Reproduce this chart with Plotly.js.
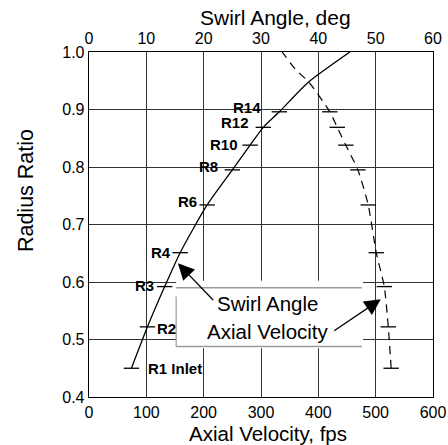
<!DOCTYPE html>
<html>
<head>
<meta charset="utf-8">
<script src="https://cdn.plot.ly/plotly-3.0.1.min.js"></script>
<style>
html,body{margin:0;padding:0;background:#fff;}
#chart{width:448px;height:445px;}
</style>
</head>
<body>
<div id="chart"></div>
<script>
// ---- data ----
const stationLabels = ['R1 Inlet', 'R2', 'R3', 'R4', 'R6', 'R8', 'R10', 'R12', 'R14'];
const stationRadius = [0.450, 0.522, 0.592, 0.651, 0.734, 0.795, 0.838, 0.869, 0.896];
const swirlAngle    = [7.4, 10.2, 13.2, 15.9, 20.6, 25.0, 28.1, 30.4, 33.2];
const axialVelocity = [527, 522, 515, 501, 487, 469, 448, 433, 420];
// curve continuation beyond the last station, up to the tip
const swirlTipRadius = [0.947, 1.0];
const swirlTipAngle  = [38.2, 45.5];
const axialTipRadius = [0.947, 0.970, 1.0];
const axialTipVel    = [384, 360, 337];
// axis ticks
const velTicks   = [0, 100, 200, 300, 400, 500, 600];
const angleTicks = [0, 10, 20, 30, 40, 50, 60];
const radiusTicks = [0.4, 0.5, 0.6, 0.7, 0.8, 0.9, 1.0];

const FONT = 'Liberation Sans, Arial, Helvetica, sans-serif';

const swirlCurveR = stationRadius.concat(swirlTipRadius);
const swirlCurveA = swirlAngle.concat(swirlTipAngle);
const axialCurveR = stationRadius.concat(axialTipRadius);
const axialCurveV = axialVelocity.concat(axialTipVel);

const traces = [
  {x: swirlCurveA, y: swirlCurveR, xaxis: 'x2', yaxis: 'y', mode: 'lines',
   line: {color: '#000', width: 1.3, shape: 'spline', smoothing: 0.6}, hoverinfo: 'skip'},
  {x: swirlAngle, y: stationRadius, xaxis: 'x2', yaxis: 'y', mode: 'markers',
   marker: {symbol: 'line-ew', size: 11, color: '#000', line: {color: '#000', width: 1.3}}, hoverinfo: 'skip'},
  {x: axialCurveV, y: axialCurveR, xaxis: 'x', yaxis: 'y', mode: 'lines',
   line: {color: '#000', width: 1.2, dash: '8px,6px', shape: 'spline', smoothing: 0.6}, hoverinfo: 'skip'},
  {x: axialVelocity, y: stationRadius, xaxis: 'x', yaxis: 'y', mode: 'markers',
   marker: {symbol: 'line-ew', size: 11, color: '#000', line: {color: '#000', width: 1.3}}, hoverinfo: 'skip'}
];

// label placement offsets (px) relative to the swirl-angle station ticks
const labelOffsets = [
  {anchor: 'left',  dx: 16,  dy: 0},
  {anchor: 'left',  dx: 9,   dy: -2},
  {anchor: 'right', dx: -10, dy: 1.5},
  {anchor: 'right', dx: -8,  dy: 0},
  {anchor: 'right', dx: -9,  dy: 3},
  {anchor: 'right', dx: -13, dy: 3},
  {anchor: 'right', dx: -11, dy: 1},
  {anchor: 'right', dx: -13, dy: 5},
  {anchor: 'right', dx: -17, dy: 4.5}
];

const annotations = stationLabels.map((t, i) => ({
  text: '<b>' + t + '</b>', xref: 'x2', yref: 'y', x: swirlAngle[i], y: stationRadius[i],
  xanchor: labelOffsets[i].anchor, yanchor: 'middle',
  xshift: labelOffsets[i].dx, yshift: labelOffsets[i].dy,
  showarrow: false, borderpad: 0, font: {family: FONT, size: 15, color: '#000'}
}));

// legend text and arrows
annotations.push(
  {text: 'Swirl Angle', xref: 'x', yref: 'y', x: 311, y: 0.562, showarrow: false,
   xanchor: 'center', yanchor: 'middle', font: {family: FONT, size: 20.5, color: '#000'}},
  {text: 'Axial Velocity', xref: 'x', yref: 'y', x: 313, y: 0.514, showarrow: false,
   xanchor: 'center', yanchor: 'middle', font: {family: FONT, size: 20.5, color: '#000'}},
  {text: '', xref: 'x', yref: 'y', x: 155, y: 0.6325, axref: 'x', ayref: 'y', ax: 219, ay: 0.566,
   showarrow: true, arrowhead: 2, arrowsize: 2.5, arrowwidth: 1.3, arrowcolor: '#000', standoff: 0},
  {text: '', xref: 'x', yref: 'y', x: 509, y: 0.570, axref: 'x', ayref: 'y', ax: 425, ay: 0.5136,
   showarrow: true, arrowhead: 2, arrowsize: 2.5, arrowwidth: 1.3, arrowcolor: '#000', standoff: 0},
  // axis titles
  {text: 'Swirl Angle, deg', xref: 'paper', yref: 'paper', x: 0.5436, y: 1.0986,
   showarrow: false, xanchor: 'center', yanchor: 'middle', font: {family: FONT, size: 21, color: '#000'}},
  {text: 'Axial Velocity, fps', xref: 'paper', yref: 'paper', x: 0.5218, y: -0.1058,
   showarrow: false, xanchor: 'center', yanchor: 'middle', font: {family: FONT, size: 20.5, color: '#000'}},
  {text: 'Radius Ratio', xref: 'paper', yref: 'paper', x: -0.183, y: 0.597, textangle: -90,
   showarrow: false, xanchor: 'center', yanchor: 'middle', font: {family: FONT, size: 21.5, color: '#000'}}
);

const shapes = [
  {type: 'rect', xref: 'x', yref: 'y', x0: 152, x1: 478, y0: 0.485, y1: 0.602,
   fillcolor: '#fff', line: {width: 0}, layer: 'above'},
  {type: 'line', xref: 'x', yref: 'y', x0: 152, x1: 476, y0: 0.590, y1: 0.590,
   line: {color: '#9a9a9a', width: 1.5}, layer: 'above'},
  {type: 'line', xref: 'x', yref: 'y', x0: 152, x1: 476, y0: 0.488, y1: 0.488,
   line: {color: '#9a9a9a', width: 1.5}, layer: 'above'},
  {type: 'line', xref: 'x', yref: 'y', x0: 152, x1: 152, y0: 0.488, y1: 0.575,
   line: {color: '#9a9a9a', width: 1.2}, layer: 'above'}
];

const axisCommon = {
  showline: true, linecolor: '#000', linewidth: 1.3, ticks: '', zeroline: false,
  tickfont: {family: FONT, size: 16, color: '#000'}, fixedrange: true
};

const layout = {
  width: 448, height: 445,
  margin: {l: 89, r: 15, t: 52, b: 48, pad: 0},
  paper_bgcolor: '#fff', plot_bgcolor: '#fff',
  showlegend: false, hovermode: false,
  font: {family: FONT, color: '#000'},
  xaxis: Object.assign({}, axisCommon, {
    range: [0, 600], tickvals: velTicks, ticktext: velTicks.map(String),
    showgrid: true, gridcolor: '#333', gridwidth: 1, mirror: true
  }),
  xaxis2: Object.assign({}, axisCommon, {
    range: [0, 60], tickvals: angleTicks, ticktext: angleTicks.map(String),
    overlaying: 'x', side: 'top', anchor: 'y', showgrid: false
  }),
  yaxis: Object.assign({}, axisCommon, {
    range: [0.4, 1.0], tickvals: radiusTicks, ticktext: radiusTicks.map(v => v.toFixed(1)),
    showgrid: true, gridcolor: '#333', gridwidth: 1, mirror: true
  }),
  annotations: annotations,
  shapes: shapes
};

Plotly.newPlot('chart', traces, layout, {staticPlot: true, displayModeBar: false});
</script>
</body>
</html>
